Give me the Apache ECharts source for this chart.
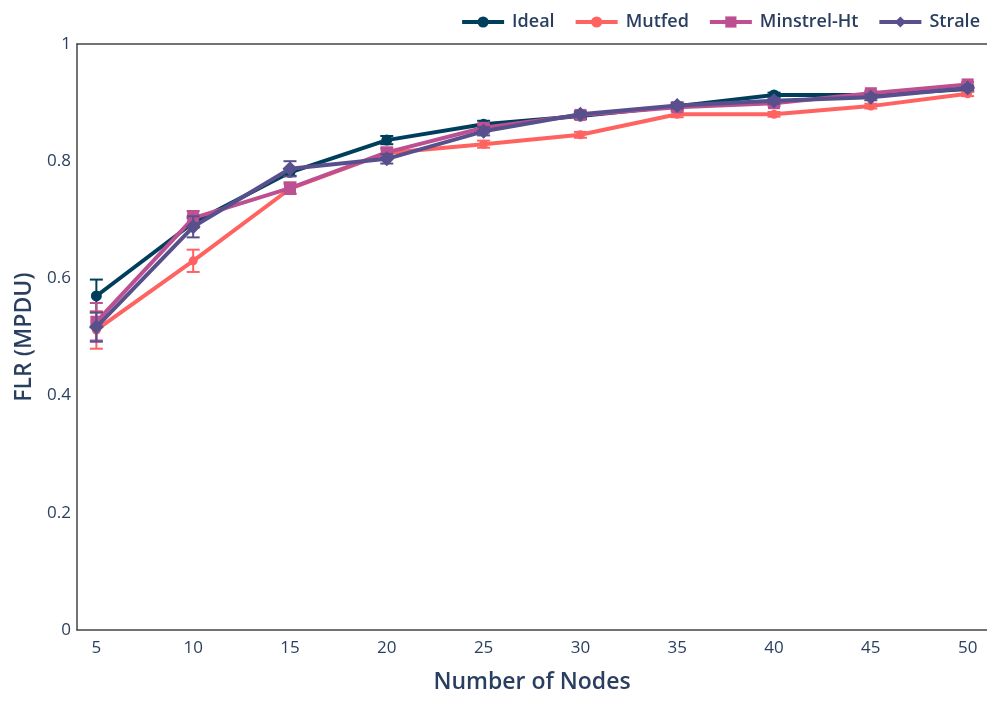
<!DOCTYPE html>
<html>
<head>
<meta charset="utf-8">
<script src="https://cdn.jsdelivr.net/npm/echarts@6/dist/echarts.min.js"></script>
<style>html,body{margin:0;padding:0;background:#fff}#c{width:987px;height:702px}</style>
</head>
<body>
<div id="c"></div>
<script>
const nodes = [5, 10, 15, 20, 25, 30, 35, 40, 45, 50];
const seriesNames = ['Ideal', 'Mutfed', 'Minstrel-Ht', 'Strale'];
const ideal    = [0.570, 0.695, 0.781, 0.836, 0.863, 0.877, 0.894, 0.913, 0.913, 0.923];
const mutfed   = [0.512, 0.630, 0.753, 0.814, 0.829, 0.845, 0.880, 0.880, 0.894, 0.915];
const minstrel = [0.526, 0.703, 0.754, 0.815, 0.857, 0.879, 0.892, 0.899, 0.916, 0.931];
const strale   = [0.517, 0.688, 0.787, 0.804, 0.851, 0.880, 0.895, 0.903, 0.909, 0.925];
const idealErr    = [0.028, 0.008, 0.006, 0.007, 0.006, 0.005, 0.004, 0.004, 0.004, 0.004];
const mutfedErr   = [0.032, 0.019, 0.008, 0.006, 0.006, 0.005, 0.005, 0.004, 0.004, 0.004];
const minstrelErr = [0.032, 0.012, 0.010, 0.008, 0.006, 0.005, 0.005, 0.005, 0.004, 0.004];
const straleErr   = [0.025, 0.018, 0.013, 0.008, 0.007, 0.005, 0.005, 0.005, 0.005, 0.004];
const xTicks = [5, 10, 15, 20, 25, 30, 35, 40, 45, 50];

const colors = ['#003f5c', '#ff6361', '#bc5090', '#58508d'];
const symbols = ['circle', 'circle', 'rect', 'diamond'];
const symbolSizes = [11, 9, 12, 15];
const values = [ideal, mutfed, minstrel, strale];
const errs = [idealErr, mutfedErr, minstrelErr, straleErr];

const chart = echarts.init(document.getElementById('c'), null, {renderer: 'canvas'});
const textColor = '#2a3f5f';
const font = '"Open Sans", "Noto Sans", sans-serif';

const series = [];
seriesNames.forEach((name, i) => {
  series.push({
    name: name + ' err',
    type: 'custom',
    z: 2 + i * 2,
    silent: true,
    data: nodes.map((x, k) => [x, values[i][k] - errs[i][k], values[i][k] + errs[i][k]]),
    renderItem: function (params, api) {
      const lo = api.coord([api.value(0), api.value(1)]);
      const hi = api.coord([api.value(0), api.value(2)]);
      const w = 6.5;
      const st = {stroke: colors[i], lineWidth: 2};
      return {
        type: 'group',
        children: [
          {type: 'line', shape: {x1: lo[0], y1: lo[1], x2: hi[0], y2: hi[1]}, style: st},
          {type: 'line', shape: {x1: lo[0] - w, y1: lo[1], x2: lo[0] + w, y2: lo[1]}, style: st},
          {type: 'line', shape: {x1: hi[0] - w, y1: hi[1], x2: hi[0] + w, y2: hi[1]}, style: st}
        ]
      };
    }
  });
  series.push({
    name: name,
    type: 'line',
    z: 3 + i * 2,
    data: nodes.map((x, k) => [x, values[i][k]]),
    symbol: symbols[i],
    symbolSize: symbolSizes[i],
    showAllSymbol: true,
    color: colors[i],
    lineStyle: {width: 4, color: colors[i]},
    itemStyle: {color: colors[i]}
  });
});

chart.setOption({
  animation: false,
  backgroundColor: '#fff',
  textStyle: {fontFamily: font},
  legend: {
    data: seriesNames,
    top: 8,
    right: 2,
    itemWidth: 42,
    itemHeight: 14,
    itemGap: 19,
    lineStyle: {width: 4},
    textStyle: {color: textColor, fontSize: 18, fontWeight: 600, fontFamily: font, padding: [0, 0, 0, 3]}
  },
  grid: {left: 77, right: 0, top: 44, bottom: 72, containLabel: false},
  xAxis: [{
    type: 'value',
    min: 4,
    max: 51,
    name: 'Number of Nodes',
    nameLocation: 'middle',
    nameGap: 41,
    nameTextStyle: {color: textColor, fontSize: 23, fontWeight: 600, fontFamily: font},
    axisLine: {show: true, lineStyle: {color: '#444', width: 1.5}},
    axisTick: {show: false},
    splitLine: {show: false},
    axisLabel: {customValues: xTicks, color: textColor, fontSize: 17, margin: 10, fontFamily: font}
  }, {
    type: 'value',
    position: 'top',
    min: 4,
    max: 51,
    axisLine: {show: true, lineStyle: {color: '#444', width: 1.5}},
    axisTick: {show: false},
    axisLabel: {show: false},
    splitLine: {show: false}
  }],
  yAxis: {
    type: 'value',
    min: 0,
    max: 1,
    interval: 0.2,
    name: 'FLR (MPDU)',
    nameLocation: 'middle',
    nameGap: 26,
    nameTextStyle: {color: textColor, fontSize: 23, fontWeight: 600, fontFamily: font},
    axisLine: {show: true, lineStyle: {color: '#444', width: 1.5}},
    axisTick: {show: false},
    splitLine: {show: false},
    axisLabel: {color: textColor, fontSize: 17, margin: 6, fontFamily: font}
  },
  series: series
});
</script>
</body>
</html>
